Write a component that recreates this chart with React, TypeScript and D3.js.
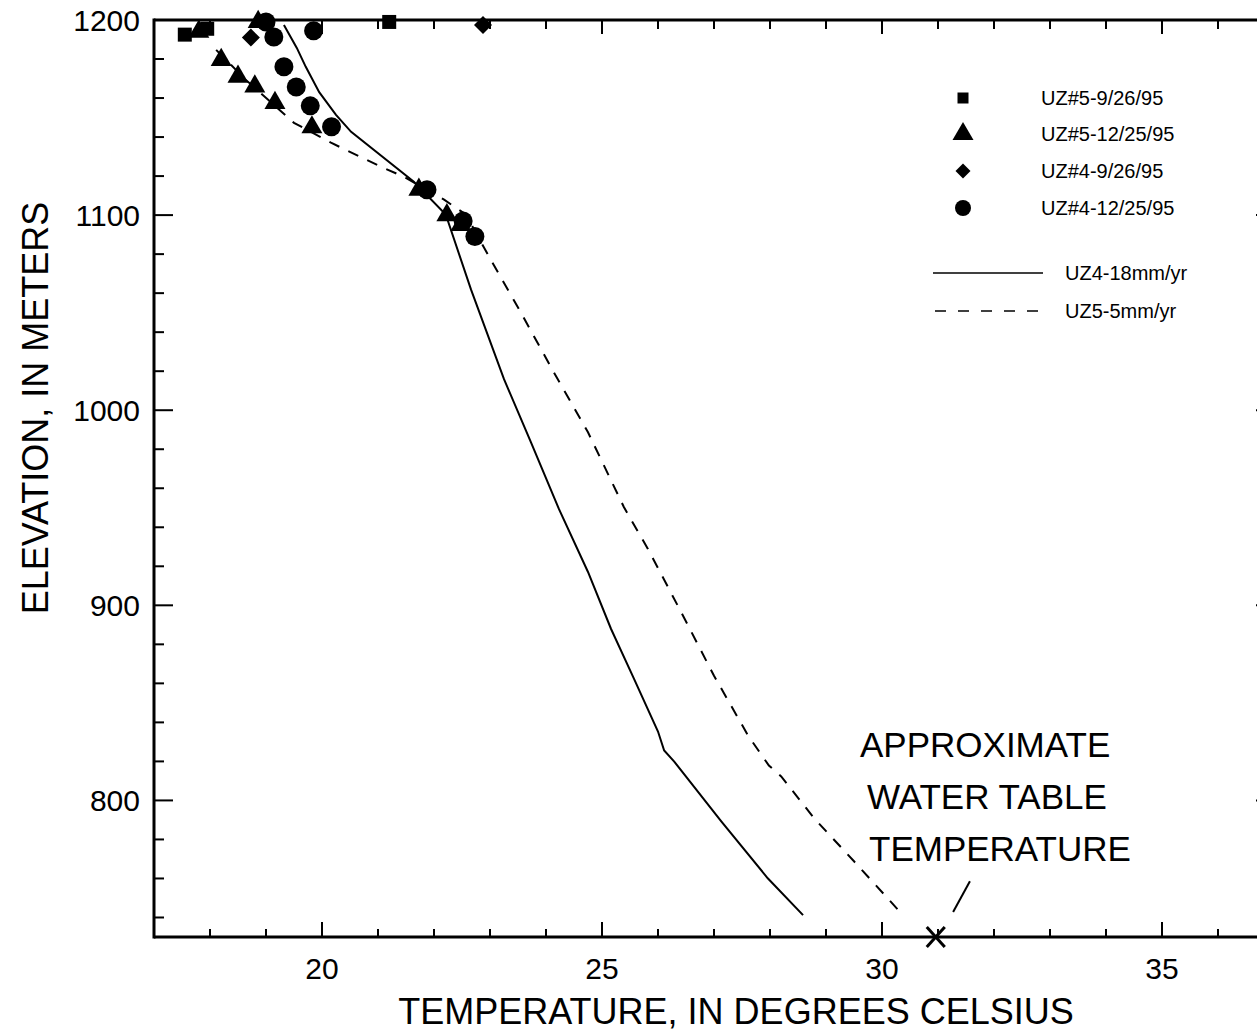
import React from "react";
import * as d3 from "d3";

// Measured borehole temperatures (degrees C) and elevations (m)
const uz5SepTemp = [17.55, 17.95, 21.2];
const uz5SepElev = [1192.5, 1195.5, 1199];

const uz5DecTemp = [17.8, 18.86, 18.2, 18.5, 18.8, 19.16, 19.82, 21.73, 22.23, 22.48];
const uz5DecElev = [1194, 1199, 1179.5, 1171, 1166, 1157.5, 1145, 1113, 1100, 1095];

const uz4SepTemp = [18.73, 22.875];
const uz4SepElev = [1191, 1197.5];

const uz4DecTemp = [19.0, 19.14, 19.85, 19.32, 19.54, 19.79, 20.17, 21.875, 22.52, 22.73];
const uz4DecElev = [1199, 1191.3, 1194.5, 1176, 1165.7, 1156, 1145.3, 1113, 1097, 1089];

// Simulated temperature profiles
const uz4ModelTemp = [19.32, 19.55, 19.71, 19.95, 20.25, 20.52, 21.64, 22.21, 22.66, 23.25, 23.73, 24.23, 24.75, 25.16, 25.57, 26.0, 26.11, 26.29, 27.13, 27.96, 28.59];
const uz4ModelElev = [1197.4, 1185.7, 1176, 1163, 1151.4, 1142.7, 1117.1, 1100.3, 1061.9, 1015.9, 983.6, 949.4, 917.1, 888, 862.4, 835.3, 825.6, 819.9, 789.3, 760.1, 741.2];

const uz5ModelTemp = [18.11, 18.64, 19.5, 20.16, 21.05, 21.46, 22.18, 22.57, 22.98, 23.55, 24.14, 24.75, 25.39, 25.82, 26.41, 27.0, 27.61, 27.98, 28.2, 28.79, 29.5, 30.39];
const uz5ModelElev = [1184.7, 1169.3, 1147.3, 1137.1, 1124.8, 1119.7, 1107.9, 1100.3, 1078.8, 1050.1, 1019.4, 988.7, 950.4, 928.9, 896.7, 863.9, 833.2, 817.9, 812.3, 790.8, 768.8, 740.7];

// Water table temperature marker and its pointer
const waterTableTemp = 30.96;
const waterTableElev = 730;
const pointerTemp = [31.27, 31.57];
const pointerElev = [742.8, 758.6];

const xMajorTicks = [20, 25, 30, 35];
const yMajorTicks = [800, 900, 1000, 1100, 1200];

const legendSymbols = ["UZ#5-9/26/95", "UZ#5-12/25/95", "UZ#4-9/26/95", "UZ#4-12/25/95"];
const legendLines = ["UZ4-18mm/yr", "UZ5-5mm/yr"];
const annotationLines = ["APPROXIMATE", "WATER TABLE", "TEMPERATURE"];

const FONT = "'Liberation Sans', Arial, Helvetica, sans-serif";
const W = 1257;
const H = 1031;
const left = 154;
const right = 1274;
const top = 20;
const bottom = 937;

const x = d3.scaleLinear().domain([17, 37]).range([left, right]);
const y = d3.scaleLinear().domain([730, 1200]).range([bottom, top]);

const zip = (a: number[], b: number[]) => a.map((v, i) => [v, b[i]] as [number, number]);

const lineGen = d3
  .line<[number, number]>()
  .x((d) => x(d[0]))
  .y((d) => y(d[1]));

const squarePath = (s: number) => `M${-s / 2},${-s / 2}h${s}v${s}h${-s}Z`;
const diamondPath = (s: number) => `M0,${-s / 2}L${s / 2},0L0,${s / 2}L${-s / 2},0Z`;
const trianglePath = (side: number) => d3.symbol(d3.symbolTriangle, (Math.sqrt(3) / 4) * side * side)() as string;

function Marker({ kind, cx, cy, big }: { kind: number; cx: number; cy: number; big: boolean }) {
  const t = `translate(${cx},${cy})`;
  if (kind === 0) return <path transform={t} d={squarePath(big ? 14 : 11)} fill="#000" />;
  if (kind === 1) return <path transform={t} d={trianglePath(21)} fill="#000" />;
  if (kind === 2) return <path transform={t} d={diamondPath(big ? 18 : 15)} fill="#000" />;
  return <circle cx={cx} cy={cy} r={big ? 9.5 : 8} fill="#000" />;
}

export default function App() {
  const xMinor = d3.range(17, 38, 1).filter((v) => !xMajorTicks.includes(v));
  const yMinor = d3.range(740, 1200, 20).filter((v) => !yMajorTicks.includes(v));

  const series = [
    zip(uz5SepTemp, uz5SepElev),
    zip(uz5DecTemp, uz5DecElev),
    zip(uz4SepTemp, uz4SepElev),
    zip(uz4DecTemp, uz4DecElev),
  ];

  const legendRowY = [98, 134, 171, 208];
  const wx = x(waterTableTemp);
  const wy = y(waterTableElev);

  return (
    <div style={{ position: "absolute", left: 0, top: 0 }}>
      <svg width={W} height={H} style={{ display: "block", background: "#fff" }} fontFamily={FONT}>
        <rect x={0} y={0} width={W} height={H} fill="#fff" />

        {/* model curves */}
        <path d={lineGen(zip(uz4ModelTemp, uz4ModelElev)) as string} fill="none" stroke="#000" strokeWidth={2} />
        <path
          d={lineGen(zip(uz5ModelTemp, uz5ModelElev)) as string}
          fill="none"
          stroke="#000"
          strokeWidth={2}
          strokeDasharray="11 10"
        />

        {/* frame */}
        <g stroke="#000" strokeWidth={3} fill="none">
          <line x1={left} y1={top} x2={right} y2={top} />
          <line x1={left} y1={bottom} x2={right} y2={bottom} />
          <line x1={left} y1={top - 1.5} x2={left} y2={bottom + 1.5} />
          <line x1={right} y1={top} x2={right} y2={bottom} />
        </g>

        {/* ticks */}
        <g stroke="#000" strokeWidth={2}>
          {xMajorTicks.map((v) => (
            <g key={"xM" + v}>
              <line x1={x(v)} x2={x(v)} y1={bottom} y2={bottom - 15} />
              <line x1={x(v)} x2={x(v)} y1={top} y2={top + 14} />
            </g>
          ))}
          {xMinor.map((v) => (
            <g key={"xm" + v}>
              <line x1={x(v)} x2={x(v)} y1={bottom} y2={bottom - 8} />
              <line x1={x(v)} x2={x(v)} y1={top} y2={top + 9} />
            </g>
          ))}
          {yMajorTicks.map((v) => (
            <g key={"yM" + v}>
              <line x1={left} x2={left + 19} y1={y(v)} y2={y(v)} />
              <line x1={right} x2={right - 18} y1={y(v)} y2={y(v)} />
            </g>
          ))}
          {yMinor.map((v) => (
            <g key={"ym" + v}>
              <line x1={left} x2={left + 10} y1={y(v)} y2={y(v)} />
              <line x1={right} x2={right - 9} y1={y(v)} y2={y(v)} />
            </g>
          ))}
        </g>

        {/* tick labels */}
        <g fontSize={30} fill="#000">
          {xMajorTicks.map((v) => (
            <text key={"xl" + v} x={x(v)} y={979} textAnchor="middle">
              {v}
            </text>
          ))}
          {yMajorTicks.map((v) => (
            <text key={"yl" + v} x={140} y={y(v) + 11} textAnchor="end">
              {v}
            </text>
          ))}
        </g>

        {/* axis titles */}
        <text x={736} y={1024} textAnchor="middle" fontSize={36} fill="#000">
          TEMPERATURE, IN DEGREES CELSIUS
        </text>
        <text
          transform={`translate(48,408) rotate(-90)`}
          textAnchor="middle"
          fontSize={36}
          fill="#000"
        >
          ELEVATION, IN METERS
        </text>

        {/* measured points */}
        {series.map((pts, k) =>
          pts.map((p, i) => <Marker key={`m${k}-${i}`} kind={k} cx={x(p[0])} cy={y(p[1])} big={true} />)
        )}

        {/* water table marker */}
        <g stroke="#000" strokeWidth={3}>
          <line x1={wx - 9} y1={wy - 10} x2={wx + 9} y2={wy + 10} />
          <line x1={wx + 9} y1={wy - 10} x2={wx - 9} y2={wy + 10} />
        </g>
        <line
          x1={x(pointerTemp[0])}
          y1={y(pointerElev[0])}
          x2={x(pointerTemp[1])}
          y2={y(pointerElev[1])}
          stroke="#000"
          strokeWidth={2}
        />
        <g fontSize={35} fill="#000">
          <text x={860} y={757}>{annotationLines[0]}</text>
          <text x={867} y={809}>{annotationLines[1]}</text>
          <text x={869} y={861}>{annotationLines[2]}</text>
        </g>

        {/* legend */}
        {legendSymbols.map((label, i) => (
          <g key={"lg" + i}>
            <Marker kind={i} cx={963} cy={legendRowY[i]} big={false} />
            <text x={1041} y={legendRowY[i] + 7} fontSize={20} fill="#000">
              {label}
            </text>
          </g>
        ))}
        <line x1={933} x2={1043} y1={273} y2={273} stroke="#000" strokeWidth={1.5} />
        <text x={1065} y={280} fontSize={20} fill="#000">
          {legendLines[0]}
        </text>
        <line x1={935} x2={1045} y1={311} y2={311} stroke="#000" strokeWidth={1.5} strokeDasharray="11 12" />
        <text x={1065} y={318} fontSize={20} fill="#000">
          {legendLines[1]}
        </text>
      </svg>
    </div>
  );
}
